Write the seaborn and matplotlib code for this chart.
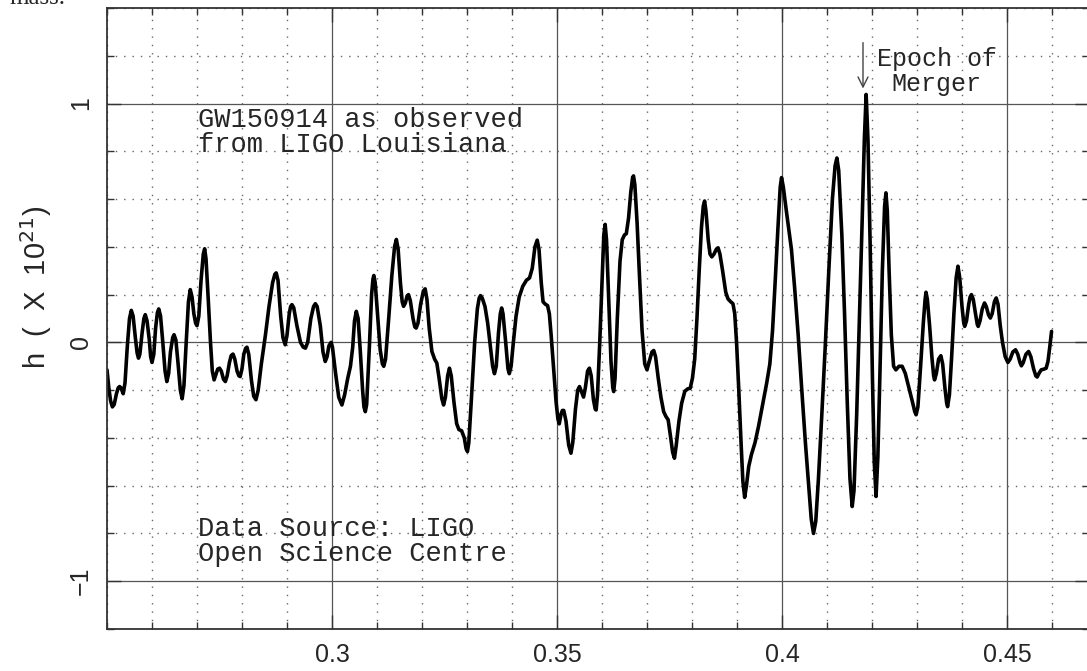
import matplotlib
matplotlib.use("Agg")
import matplotlib.pyplot as plt
import numpy as np
import pandas as pd
import seaborn as sns
from matplotlib.ticker import MultipleLocator

# GW150914 strain at LIGO Livingston (h x 1e21)
time_s = [
    0.2500, 0.2504, 0.2508, 0.2512, 0.2516, 0.2521, 0.2525, 0.2528, 0.2531, 0.2536,
    0.2540, 0.2545, 0.2550, 0.2554, 0.2558, 0.2563, 0.2567, 0.2570, 0.2573, 0.2578,
    0.2582, 0.2585, 0.2589, 0.2594, 0.2597, 0.2600, 0.2604, 0.2608, 0.2612, 0.2615,
    0.2619, 0.2624, 0.2629, 0.2633, 0.2637, 0.2641, 0.2646, 0.2649, 0.2653, 0.2658,
    0.2663, 0.2667, 0.2671, 0.2676, 0.2681, 0.2685, 0.2689, 0.2693, 0.2697, 0.2700,
    0.2704, 0.2709, 0.2714, 0.2717, 0.2720, 0.2725, 0.2730, 0.2734, 0.2738, 0.2742,
    0.2746, 0.2750, 0.2754, 0.2759, 0.2763, 0.2767, 0.2772, 0.2776, 0.2780, 0.2784,
    0.2789, 0.2793, 0.2796, 0.2800, 0.2804, 0.2808, 0.2811, 0.2815, 0.2821, 0.2826,
    0.2831, 0.2836, 0.2843, 0.2852, 0.2860, 0.2868, 0.2873, 0.2876, 0.2880, 0.2886,
    0.2891, 0.2896, 0.2900, 0.2905, 0.2908, 0.2911, 0.2915, 0.2922, 0.2930, 0.2936,
    0.2941, 0.2946, 0.2953, 0.2959, 0.2963, 0.2967, 0.2974, 0.2980, 0.2985, 0.2989,
    0.2993, 0.2998, 0.3001, 0.3008, 0.3015, 0.3022, 0.3028, 0.3035, 0.3041, 0.3046,
    0.3050, 0.3054, 0.3058, 0.3063, 0.3068, 0.3071, 0.3074, 0.3077, 0.3083, 0.3088,
    0.3091, 0.3093, 0.3096, 0.3101, 0.3107, 0.3112, 0.3115, 0.3119, 0.3126, 0.3133,
    0.3139, 0.3143, 0.3147, 0.3152, 0.3156, 0.3159, 0.3163, 0.3167, 0.3170, 0.3174,
    0.3180, 0.3184, 0.3187, 0.3191, 0.3197, 0.3203, 0.3207, 0.3211, 0.3216, 0.3222,
    0.3228, 0.3233, 0.3238, 0.3244, 0.3248, 0.3252, 0.3257, 0.3261, 0.3265, 0.3271,
    0.3277, 0.3282, 0.3288, 0.3294, 0.3298, 0.3301, 0.3304, 0.3310, 0.3317, 0.3323,
    0.3327, 0.3330, 0.3334, 0.3340, 0.3346, 0.3352, 0.3357, 0.3361, 0.3365, 0.3370,
    0.3374, 0.3377, 0.3380, 0.3386, 0.3391, 0.3394, 0.3398, 0.3403, 0.3409, 0.3416,
    0.3424, 0.3432, 0.3439, 0.3445, 0.3451, 0.3456, 0.3460, 0.3465, 0.3469, 0.3474,
    0.3479, 0.3483, 0.3487, 0.3492, 0.3498, 0.3502, 0.3505, 0.3509, 0.3512, 0.3515,
    0.3520, 0.3526, 0.3531, 0.3535, 0.3541, 0.3546, 0.3550, 0.3554, 0.3559, 0.3563,
    0.3568, 0.3572, 0.3576, 0.3581, 0.3585, 0.3587, 0.3590, 0.3595, 0.3600, 0.3604,
    0.3607, 0.3610, 0.3615, 0.3620, 0.3624, 0.3626, 0.3629, 0.3634, 0.3640, 0.3645,
    0.3650, 0.3654, 0.3659, 0.3664, 0.3668, 0.3670, 0.3673, 0.3678, 0.3683, 0.3689,
    0.3695, 0.3700, 0.3705, 0.3711, 0.3715, 0.3719, 0.3725, 0.3731, 0.3737, 0.3742,
    0.3747, 0.3752, 0.3757, 0.3761, 0.3765, 0.3771, 0.3777, 0.3784, 0.3790, 0.3796,
    0.3801, 0.3806, 0.3811, 0.3816, 0.3821, 0.3825, 0.3828, 0.3831, 0.3836, 0.3840,
    0.3844, 0.3849, 0.3854, 0.3858, 0.3862, 0.3868, 0.3875, 0.3880, 0.3886, 0.3891,
    0.3895, 0.3899, 0.3904, 0.3909, 0.3913, 0.3917, 0.3921, 0.3926, 0.3932, 0.3940,
    0.3948, 0.3957, 0.3966, 0.3973, 0.3979, 0.3985, 0.3991, 0.3996, 0.3999, 0.4003,
    0.4009, 0.4016, 0.4021, 0.4028, 0.4036, 0.4044, 0.4052, 0.4060, 0.4065, 0.4070,
    0.4075, 0.4081, 0.4088, 0.4096, 0.4104, 0.4112, 0.4118, 0.4122, 0.4126, 0.4133,
    0.4139, 0.4145, 0.4151, 0.4156, 0.4160, 0.4166, 0.4172, 0.4178, 0.4183, 0.4187,
    0.4191, 0.4196, 0.4201, 0.4205, 0.4209, 0.4213, 0.4218, 0.4223, 0.4228, 0.4231,
    0.4234, 0.4238, 0.4243, 0.4248, 0.4253, 0.4260, 0.4267, 0.4274, 0.4282, 0.4290,
    0.4295, 0.4298, 0.4302, 0.4308, 0.4314, 0.4318, 0.4320, 0.4323, 0.4328, 0.4333,
    0.4337, 0.4339, 0.4343, 0.4348, 0.4353, 0.4357, 0.4362, 0.4366, 0.4368, 0.4372,
    0.4377, 0.4382, 0.4387, 0.4391, 0.4395, 0.4400, 0.4404, 0.4406, 0.4410, 0.4415,
    0.4418, 0.4421, 0.4425, 0.4430, 0.4434, 0.4436, 0.4440, 0.4445, 0.4450, 0.4454,
    0.4459, 0.4463, 0.4467, 0.4472, 0.4476, 0.4480, 0.4485, 0.4490, 0.4496, 0.4502,
    0.4507, 0.4513, 0.4519, 0.4524, 0.4529, 0.4532, 0.4536, 0.4542, 0.4548, 0.4553,
    0.4559, 0.4564, 0.4567, 0.4571, 0.4576, 0.4582, 0.4587, 0.4591, 0.4595, 0.4599,
]
strain = [
    -0.115, -0.19, -0.245, -0.27, -0.26, -0.215, -0.19, -0.185, -0.19, -0.215,
    -0.17, -0.02, 0.10, 0.134, 0.11, 0.02, -0.045, -0.066, -0.05, 0.04,
    0.10, 0.116, 0.09, 0.01, -0.06, -0.084, -0.05, 0.06, 0.125, 0.14,
    0.11, 0.0, -0.12, -0.164, -0.13, -0.04, 0.02, 0.032, 0.01, -0.09,
    -0.20, -0.236, -0.18, 0.0, 0.17, 0.221, 0.19, 0.12, 0.08, 0.07,
    0.11, 0.26, 0.37, 0.392, 0.35, 0.18, 0.0, -0.12, -0.157, -0.135,
    -0.112, -0.108, -0.12, -0.155, -0.164, -0.14, -0.085, -0.055, -0.049, -0.07,
    -0.12, -0.14, -0.143, -0.11, -0.05, -0.025, -0.02, -0.05, -0.16, -0.225,
    -0.24, -0.20, -0.09, 0.03, 0.15, 0.25, 0.285, 0.291, 0.26, 0.11,
    0.02, -0.01, 0.03, 0.12, 0.15, 0.158, 0.145, 0.07, 0.0, -0.02,
    -0.024, 0.0, 0.10, 0.15, 0.162, 0.15, 0.07, -0.04, -0.08, -0.06,
    -0.015, 0.0, -0.02, -0.13, -0.23, -0.262, -0.22, -0.15, -0.10, -0.02,
    0.09, 0.13, 0.10, -0.04, -0.20, -0.27, -0.29, -0.26, -0.02, 0.20,
    0.265, 0.28, 0.25, 0.12, -0.03, -0.09, -0.10, -0.07, 0.10, 0.28,
    0.40, 0.431, 0.39, 0.25, 0.17, 0.151, 0.165, 0.195, 0.20, 0.175,
    0.10, 0.065, 0.06, 0.08, 0.16, 0.215, 0.224, 0.18, 0.06, -0.038,
    -0.07, -0.087, -0.15, -0.235, -0.262, -0.23, -0.14, -0.108, -0.14, -0.25,
    -0.34, -0.365, -0.37, -0.40, -0.445, -0.457, -0.42, -0.23, 0.0, 0.14,
    0.185, 0.196, 0.185, 0.15, 0.08, -0.02, -0.10, -0.131, -0.10, 0.04,
    0.12, 0.144, 0.12, 0.0, -0.11, -0.131, -0.10, 0.0, 0.11, 0.19,
    0.235, 0.26, 0.27, 0.31, 0.40, 0.428, 0.39, 0.25, 0.17, 0.16,
    0.154, 0.12, 0.03, -0.10, -0.25, -0.32, -0.341, -0.30, -0.285, -0.285,
    -0.33, -0.43, -0.464, -0.42, -0.28, -0.20, -0.185, -0.205, -0.229, -0.19,
    -0.12, -0.108, -0.14, -0.24, -0.28, -0.283, -0.22, 0.0, 0.25, 0.45,
    0.494, 0.43, 0.18, -0.08, -0.19, -0.206, -0.15, 0.10, 0.34, 0.43,
    0.45, 0.455, 0.52, 0.63, 0.69, 0.697, 0.66, 0.50, 0.29, 0.05,
    -0.09, -0.115, -0.08, -0.04, -0.034, -0.06, -0.15, -0.23, -0.29, -0.31,
    -0.324, -0.39, -0.46, -0.485, -0.43, -0.33, -0.255, -0.205, -0.195, -0.192,
    -0.15, -0.07, 0.10, 0.30, 0.48, 0.57, 0.592, 0.55, 0.43, 0.37,
    0.358, 0.37, 0.39, 0.396, 0.37, 0.30, 0.21, 0.182, 0.17, 0.162,
    0.12, 0.00, -0.20, -0.42, -0.58, -0.649, -0.60, -0.52, -0.47, -0.42,
    -0.35, -0.26, -0.17, -0.09, 0.05, 0.26, 0.48, 0.65, 0.69, 0.65,
    0.56, 0.46, 0.389, 0.23, 0.03, -0.20, -0.42, -0.62, -0.74, -0.80,
    -0.75, -0.57, -0.32, -0.02, 0.30, 0.60, 0.74, 0.772, 0.72, 0.45,
    0.12, -0.25, -0.57, -0.687, -0.62, -0.30, 0.10, 0.50, 0.85, 1.038,
    0.85, 0.40, -0.15, -0.50, -0.645, -0.48, -0.10, 0.30, 0.57, 0.626,
    0.55, 0.30, 0.03, -0.10, -0.115, -0.10, -0.10, -0.13, -0.19, -0.25,
    -0.29, -0.303, -0.27, -0.10, 0.08, 0.18, 0.21, 0.18, 0.07, -0.06,
    -0.14, -0.157, -0.13, -0.07, -0.056, -0.09, -0.19, -0.255, -0.269, -0.22,
    -0.06, 0.12, 0.27, 0.319, 0.27, 0.15, 0.08, 0.067, 0.09, 0.16,
    0.19, 0.2, 0.18, 0.12, 0.075, 0.067, 0.09, 0.14, 0.165, 0.15,
    0.115, 0.102, 0.12, 0.17, 0.186, 0.16, 0.07, 0.00, -0.06, -0.084,
    -0.07, -0.04, -0.031, -0.05, -0.085, -0.098, -0.085, -0.05, -0.038, -0.06,
    -0.11, -0.14, -0.145, -0.13, -0.115, -0.112, -0.108, -0.08, -0.02, 0.046,
]

df = pd.DataFrame({"t": time_s, "h": strain})

sns.set_style("ticks")
plt.rcParams["font.family"] = ["Liberation Sans", "DejaVu Sans"]

fig = plt.figure(figsize=(10.87, 6.71), dpi=100)
ax = fig.add_axes([107 / 1087, 1 - 629 / 671, 982 / 1087, 621 / 671])

sns.lineplot(data=df, x="t", y="h", sort=False, estimator=None,
             color="black", lw=2.6, ax=ax)

ax.set_xlim(0.25, 0.25 + 982 / 4500)
ax.set_ylim(-1.2, 1.4)
ax.xaxis.set_major_locator(MultipleLocator(0.05))
ax.xaxis.set_minor_locator(MultipleLocator(0.01))
ax.yaxis.set_major_locator(MultipleLocator(1))
ax.yaxis.set_minor_locator(MultipleLocator(0.2))
ax.set_xticks([0.3, 0.35, 0.4, 0.45])
ax.set_xticklabels(["0.3", "0.35", "0.4", "0.45"])
ax.set_yticks([-1, 0, 1])
ax.set_yticklabels(["\u22121", "0", "1"], rotation=90, va="center")

ax.grid(which="major", color="#555555", lw=0.9, ls="-")
ax.grid(which="minor", color="#666666", lw=1.0, ls=(0, (1, 5)))
ax.set_axisbelow(True)

ax.tick_params(which="both", direction="in", top=True, right=True, color="#333333")
ax.tick_params(which="major", length=10, width=1.0, labelsize=18, pad=10)
ax.tick_params(which="minor", length=5, width=1.0)
ax.tick_params(axis="y", pad=10)
for sp in ax.spines.values():
    sp.set_color("#333333")
    sp.set_linewidth(1.3)

ax.set_xlabel("")
ax.set_ylabel("h  (  X  10$^{21}$)", fontsize=21)
ax.yaxis.set_label_coords(-0.054, 0.55)

mono = ["Liberation Mono", "DejaVu Sans Mono"]
ax.text(0.2702, 0.903, "GW150914 as observed", family=mono, fontsize=19.5, va="baseline")
ax.text(0.2702, 0.798, "from LIGO Louisiana", family=mono, fontsize=19.5, va="baseline")
ax.text(0.2702, -0.811, "Data Source: LIGO", family=mono, fontsize=19.5, va="baseline")
ax.text(0.2702, -0.916, "Open Science Centre", family=mono, fontsize=19.5, va="baseline")
ax.text(0.4344, 1.156, "Epoch of", family=mono, fontsize=18, va="baseline", ha="center")
ax.text(0.4344, 1.051, "Merger", family=mono, fontsize=18, va="baseline", ha="center")
ax.annotate("", xy=(0.418, 1.063), xytext=(0.418, 1.255),
            arrowprops=dict(arrowstyle="->", color="#444444", lw=1.0,
                            mutation_scale=18, shrinkA=0, shrinkB=0))

fig.text(0.009, 0.994, "mass.", family=["Liberation Serif", "DejaVu Serif"],
         fontsize=18, va="baseline")

fig.savefig("out.png", dpi=100)
